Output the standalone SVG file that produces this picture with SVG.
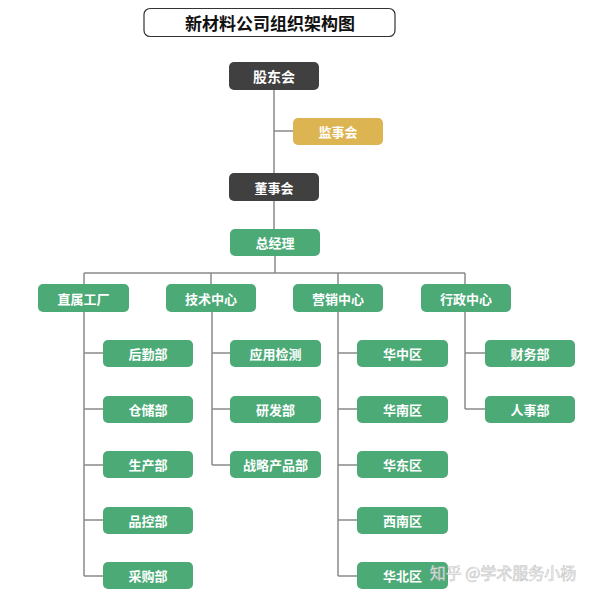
<svg xmlns="http://www.w3.org/2000/svg" width="600" height="596" viewBox="0 0 600 596">
<style>
text{font-family:"Noto Sans CJK SC",sans-serif;font-weight:bold;font-size:13px;fill:#fff;text-anchor:middle;dominant-baseline:central}
.g rect{fill:#4caa77}
.d rect{fill:#404040}
.c{stroke:#8a8a8a;stroke-width:1.5;fill:none}
</style>
<rect width="600" height="596" fill="#fff"/>
<g id="title"><rect x="144" y="8.5" width="251" height="28" rx="6" fill="#fff" stroke="#333" stroke-width="1.2"/><text x="270" y="22" style="fill:#111;font-size:17px">新材料公司组织架构图</text></g>
<g id="connectors" class="c">
<path d="M274 90V229M274 131H293M275 256V273M84 273H465M84 273V284M211 273V284M338 273V284M465 273V284"/>
<path d="M84 312V576M84 353H103M84 409H103M84 465H103M84 520H103M84 576H103"/>
<path d="M212 312V465M212 353H230M212 409H230M212 465H230"/>
<path d="M338 312V576M338 353H357M338 409H357M338 465H357M338 520H357M338 576H357"/>
<path d="M465 312V409M465 353H485M465 409H485"/>
</g>
<g id="n1" class="d"><rect x="229" y="62" width="90" height="28" rx="5"/><text x="274" y="76" style="font-size:14px">股东会</text></g>
<g id="n2"><rect x="293" y="118" width="90" height="27" rx="5" fill="#dcb552"/><text x="338" y="131.5">监事会</text></g>
<g id="n3" class="d"><rect x="229" y="173" width="90" height="28" rx="5"/><text x="274" y="187">董事会</text></g>
<g id="n4" class="g"><rect x="230" y="229" width="90" height="27" rx="5"/><text x="275" y="242.5">总经理</text></g>
<g id="a" class="g"><rect x="38" y="284" width="91" height="28" rx="5"/><text x="83.5" y="298">直属工厂</text></g>
<g id="b" class="g"><rect x="166" y="284" width="90" height="28" rx="5"/><text x="211" y="298">技术中心</text></g>
<g id="c" class="g"><rect x="293" y="284" width="90" height="28" rx="5"/><text x="338" y="298">营销中心</text></g>
<g id="d" class="g"><rect x="421" y="284" width="90" height="28" rx="5"/><text x="466" y="298">行政中心</text></g>
<g id="a1" class="g"><rect x="103" y="340" width="90" height="27" rx="5"/><text x="148" y="353.5">后勤部</text></g>
<g id="a2" class="g"><rect x="103" y="396" width="90" height="27" rx="5"/><text x="148" y="409.5">仓储部</text></g>
<g id="a3" class="g"><rect x="103" y="451" width="90" height="27" rx="5"/><text x="148" y="464.5">生产部</text></g>
<g id="a4" class="g"><rect x="103" y="507" width="90" height="27" rx="5"/><text x="148" y="520.5">品控部</text></g>
<g id="a5" class="g"><rect x="103" y="562" width="90" height="27" rx="5"/><text x="148" y="575.5">采购部</text></g>
<g id="b1" class="g"><rect x="230" y="340" width="91" height="27" rx="5"/><text x="275.5" y="353.5">应用检测</text></g>
<g id="b2" class="g"><rect x="230" y="396" width="91" height="27" rx="5"/><text x="275.5" y="409.5">研发部</text></g>
<g id="b3" class="g"><rect x="230" y="451" width="91" height="27" rx="5"/><text x="275.5" y="464.5">战略产品部</text></g>
<g id="c1" class="g"><rect x="357" y="340" width="91" height="27" rx="5"/><text x="402.5" y="353.5">华中区</text></g>
<g id="c2" class="g"><rect x="357" y="396" width="91" height="27" rx="5"/><text x="402.5" y="409.5">华南区</text></g>
<g id="c3" class="g"><rect x="357" y="451" width="91" height="27" rx="5"/><text x="402.5" y="464.5">华东区</text></g>
<g id="c4" class="g"><rect x="357" y="507" width="91" height="27" rx="5"/><text x="402.5" y="520.5">西南区</text></g>
<g id="c5" class="g"><rect x="357" y="562" width="91" height="27" rx="5"/><text x="402.5" y="575.5">华北区</text></g>
<g id="d1" class="g"><rect x="485" y="340" width="90" height="27" rx="5"/><text x="530" y="353.5">财务部</text></g>
<g id="d2" class="g"><rect x="485" y="396" width="90" height="27" rx="5"/><text x="530" y="409.5">人事部</text></g>
<text x="503" y="572" style="font-weight:normal;font-size:16px;fill:#fff;stroke:#bbb;stroke-width:0.6;opacity:0.9">知乎 @学术服务小杨</text>
</svg>
